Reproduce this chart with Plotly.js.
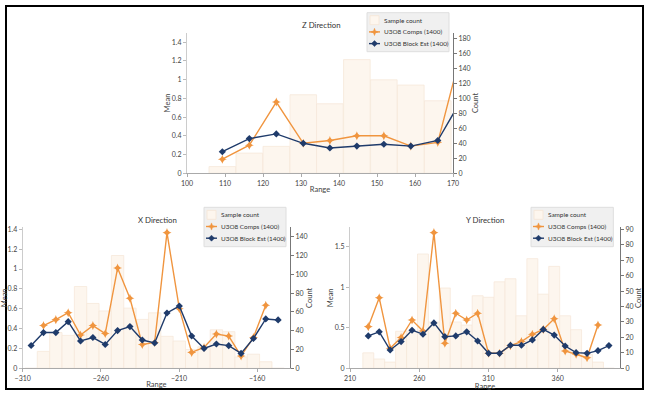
<!DOCTYPE html>
<html>
<head>
<meta charset="utf-8">
<script src="https://cdn.plot.ly/plotly-3.0.1.min.js"></script>
<style>html,body{margin:0;padding:0;background:#fff;}#chart{width:649px;height:397px;}</style>
</head>
<body>
<div id="chart"></div>
<script>
// ---- Z direction ----
const zRange = [109.3,116.4,123.5,130.6,137.6,144.7,151.8,158.9,166.0,173.0];
const zCount = [9,27,36,105,93,152,125,118,97,null];
const zComps = [0.15,0.30,0.76,0.32,0.35,0.40,0.40,0.29,0.33,1.43];
const zBlock = [0.23,0.37,0.42,0.32,0.27,0.29,0.31,0.29,0.35,0.84];

// ---- X direction ----
const xRange = [-304.6,-296.7,-288.8,-280.9,-273.0,-265.1,-257.2,-249.3,-241.4,-233.5,-225.6,-217.7,-209.8,-201.9,-194.0,-186.1,-178.2,-170.3,-162.4,-154.5,-146.6];
const xCount = [0,18,38,35,87,69,61,120,64,52,59,34,29,20,23,41,39,12,15,7,0];
const xComps = [null,0.43,0.49,0.56,0.335,0.43,0.35,1.01,0.705,0.24,0.26,1.366,0.60,0.16,0.21,0.345,0.325,0.124,0.31,0.635,null];
const xBlock = [0.23,0.36,0.36,0.47,0.275,0.31,0.24,0.38,0.42,0.285,0.255,0.557,0.627,0.325,0.20,0.245,0.228,0.15,0.30,0.497,0.487];

// ---- Y direction ----
const yRange = [223.2,231.1,239.0,246.9,254.8,262.7,270.6,278.5,286.4,294.3,302.2,310.1,318.0,325.9,333.8,341.7,349.6,357.5,365.4,373.3,381.2,389.1,397.0];
const yCount = [10,6,4,24,24,74,30,52,30,28,47,46,56,58,34,71,48,66,34,25,9,4,0];
const yComps = [0.514,0.87,0.247,0.38,0.596,0.46,1.674,0.31,0.68,0.596,0.68,0.185,0.185,0.28,0.33,0.42,0.48,0.61,0.213,0.173,0.13,0.535,null];
const yBlock = [0.40,0.45,0.226,0.33,0.47,0.42,0.56,0.39,0.40,0.45,0.337,0.185,0.185,0.284,0.284,0.35,0.48,0.41,0.275,0.193,0.185,0.218,0.28];

const legendNames = ['Sample count', 'U3O8 Comps (1400)', 'U3O8 Block Est (1400)'];
const titles = ['Z Direction','X Direction','Y Direction'];

const ORANGE = '#F0953F';
const BLUE = '#1F3B6B';
const BARFILL = '#fdf6ee';
const BARLINE = '#f6e8da';
const FONT = 'Lato, "Open Sans", sans-serif';

const W = 649, H = 397;
const px = v => v / W;
const py = v => 1 - v / H;

function traces(xr, cnt, comps, block, xa, yc, ym) {
  return [
    {type:'bar', x:xr, y:cnt, xaxis:xa, yaxis:yc, name:legendNames[0], showlegend:false,
     marker:{color:BARFILL, line:{color:BARLINE, width:0.8}}, hoverinfo:'skip'},
    {type:'scatter', mode:'lines+markers', x:xr, y:comps, xaxis:xa, yaxis:ym, name:legendNames[1], showlegend:false,
     line:{color:ORANGE, width:1.4}, marker:{symbol:'star-diamond', size:6.5, color:ORANGE}},
    {type:'scatter', mode:'lines+markers', x:xr, y:block, xaxis:xa, yaxis:ym, name:legendNames[2], showlegend:false,
     line:{color:BLUE, width:1.4}, marker:{symbol:'diamond', size:5.5, color:BLUE}}
  ];
}

const data = [].concat(
  traces(zRange, zCount, zComps, zBlock, 'x', 'y', 'y2'),
  traces(xRange, xCount, xComps, xBlock, 'x2', 'y3', 'y4'),
  traces(yRange, yCount, yComps, yBlock, 'x3', 'y5', 'y6')
);

const tickFont = {size:7, color:'#444', family:FONT};
const titleFont = {size:7.5, color:'#444', family:FONT};
function xax(domain, range, tick0, dtick, anchor) {
  return {domain, range, anchor, tick0, dtick, tickmode:'linear', ticks:'outside', ticklen:3, tickcolor:'#aaa',
          showline:true, linecolor:'#aaa', linewidth:1, showgrid:false, zeroline:false, tickfont:tickFont,
          title:{text:'Range', font:titleFont, standoff:1}};
}
function yCountAx(domain, range, dtick, anchor) {
  return {domain, range, anchor, side:'right', dtick, tick0:0, tickmode:'linear', ticks:'outside', ticklen:3, tickcolor:'#777',
          showline:true, linecolor:'#777', linewidth:1, showgrid:false, zeroline:false, tickfont:tickFont,
          title:{text:'Count', font:titleFont, standoff:0}};
}
function yMeanAx(overlay, range, dtick, anchor) {
  return {overlaying:overlay, range, anchor, side:'left', dtick, tick0:0, tickmode:'linear', ticks:'outside', ticklen:3, tickcolor:'#bbb',
          showline:true, linecolor:'#ccc', linewidth:1, showgrid:false, zeroline:false, tickfont:tickFont,
          title:{text:'Mean', font:titleFont, standoff:0}};
}

// compact legend boxes (box left, top, right, bottom in pixels)
const shapes = [];
const annotations = [];
function addLegend(l, t, r, b) {
  shapes.push({type:'rect', xref:'paper', yref:'paper', x0:px(l), x1:px(r), y0:py(b), y1:py(t),
               fillcolor:'#f0f0f0', line:{color:'#dedede', width:1}, layer:'above'});
  const cx = l + 7.5;
  const rows = [t + 7.5, t + 19.2, t + 30.9];
  shapes.push({type:'rect', xref:'paper', yref:'paper', x0:px(cx-4.5), x1:px(cx+4.5), y0:py(rows[0]+4.5), y1:py(rows[0]-4.5),
               fillcolor:BARFILL, line:{color:BARLINE, width:1}, layer:'above'});
  shapes.push({type:'line', xref:'paper', yref:'paper', x0:px(cx-5.5), x1:px(cx+5.5), y0:py(rows[1]), y1:py(rows[1]),
               line:{color:ORANGE, width:1.4}, layer:'above'});
  const s = [[0,-3.6],[1,-1],[3.6,0],[1,1],[0,3.6],[-1,1],[-3.6,0],[-1,-1]];
  shapes.push({type:'path', xref:'paper', yref:'paper', layer:'above', fillcolor:ORANGE, line:{color:ORANGE, width:0.5},
               path:'M' + s.map(p => px(cx+p[0]) + ',' + py(rows[1]+p[1])).join(' L') + ' Z'});
  shapes.push({type:'line', xref:'paper', yref:'paper', x0:px(cx-5.5), x1:px(cx+5.5), y0:py(rows[2]), y1:py(rows[2]),
               line:{color:BLUE, width:1.4}, layer:'above'});
  const d = [[0,-3],[3,0],[0,3],[-3,0]];
  shapes.push({type:'path', xref:'paper', yref:'paper', layer:'above', fillcolor:BLUE, line:{color:BLUE, width:0.5},
               path:'M' + d.map(p => px(cx+p[0]) + ',' + py(rows[2]+p[1])).join(' L') + ' Z'});
  legendNames.forEach((n, i) => {
    annotations.push({text:n, xref:'paper', yref:'paper', x:px(l + 15), y:py(rows[i]), xanchor:'left', yanchor:'middle',
                      showarrow:false, font:{size:6.4, color:'#333', family:FONT}});
  });
}
addLegend(367, 12.7, 449, 51.7);
addLegend(204, 207.3, 286, 246.7);
addLegend(531, 207.3, 613.3, 246.7);

const tf = {size:7.8, color:'#333', family:FONT};
annotations.push(
  {text:titles[0], xref:'paper', yref:'paper', x:px(321.7), y:py(25), xanchor:'center', yanchor:'middle', showarrow:false, font:tf},
  {text:titles[1], xref:'paper', yref:'paper', x:px(157.7), y:py(220), xanchor:'center', yanchor:'middle', showarrow:false, font:tf},
  {text:titles[2], xref:'paper', yref:'paper', x:px(485), y:py(220), xanchor:'center', yanchor:'middle', showarrow:false, font:tf}
);
shapes.push({type:'rect', xref:'paper', yref:'paper', x0:px(6), x1:px(643), y0:py(389), y1:py(6), line:{color:'#000', width:2}, layer:'above'});

const zY = [py(173.3), py(32.7)];
const bY = [py(368.3), py(227.3)];

const layout = {
  width:W, height:H, margin:{l:0,r:0,t:0,b:0}, paper_bgcolor:'#ffffff', plot_bgcolor:'rgba(0,0,0,0)',
  font:{family:FONT, size:7, color:'#444'},
  bargap:0, showlegend:false,
  xaxis: xax([px(187), px(453)], [100,170], 100, 10, 'y'),
  yaxis: yCountAx(zY, [0,188], 20, 'x'),
  yaxis2: yMeanAx('y', [0,1.5], 0.2, 'x'),
  xaxis2: xax([px(22.7), px(290)], [-310,-139], -310, 50, 'y3'),
  yaxis3: yCountAx(bY, [0,150], 20, 'x2'),
  yaxis4: yMeanAx('y3', [0,1.42], 0.2, 'x2'),
  xaxis3: xax([px(350), px(620)], [210,405], 210, 50, 'y5'),
  yaxis5: yCountAx(bY, [0,91.3], 10, 'x3'),
  yaxis6: yMeanAx('y5', [0,1.74], 0.5, 'x3'),
  annotations, shapes
};

Plotly.newPlot('chart', data, layout, {displayModeBar:false, staticPlot:true});
</script>
</body>
</html>
